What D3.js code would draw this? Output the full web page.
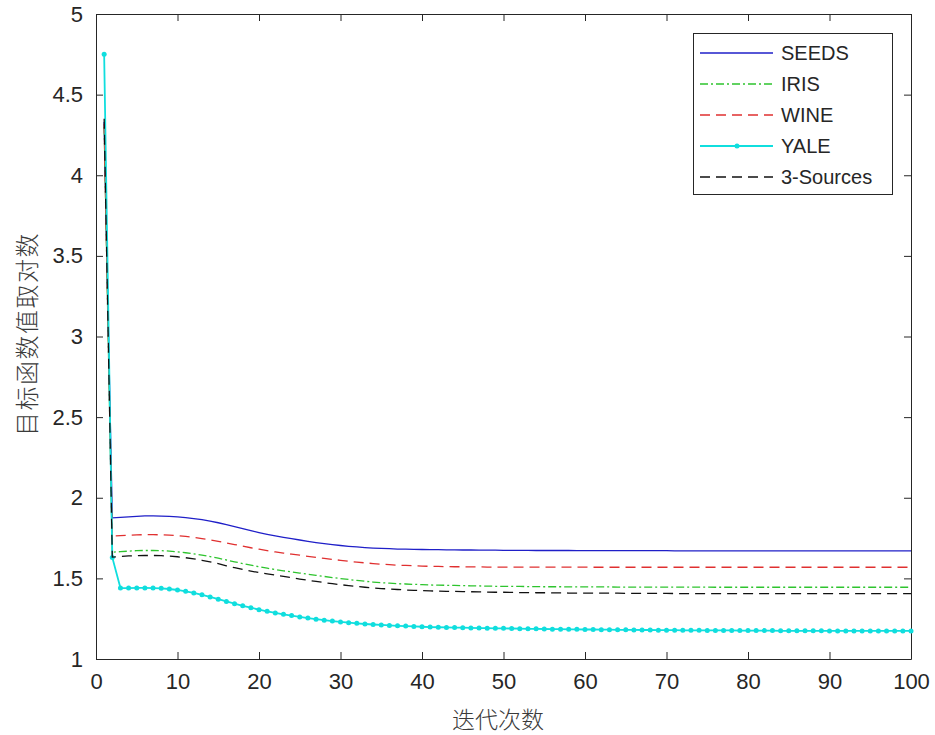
<!DOCTYPE html>
<html lang="zh">
<head>
  <meta charset="utf-8" />
  <title>迭代次数</title>
  <script src="https://d3js.org/d3.v7.min.js"></script>
  <style>
    body { margin: 0; background: #fff; }
    svg { display: block; }
    .tick-label { font-family: "Liberation Sans", Arial, sans-serif; fill: #262626; }
    .cjk { font-family: "Noto Sans CJK SC", sans-serif; fill: #3a3a3a; font-weight: 300; }
  </style>
</head>
<body>
<svg id="chart" width="935" height="735"></svg>
<script>
    // iterations 1..100
    var iters = d3.range(1, 101);

    var seeds = [4.33,1.875,1.878,1.882,1.885,1.887,1.887,1.886,1.884,1.881,
        1.877,1.871,1.864,1.855,1.845,1.833,1.821,1.808,1.796,1.784,
        1.773,1.763,1.754,1.746,1.738,1.730,1.722,1.715,1.709,1.704,
        1.699,1.695,1.691,1.688,1.686,1.684,1.682,1.681,1.680,1.679,
        1.678,1.678,1.677,1.677,1.676,1.676,1.675,1.675,1.675,1.674,
        1.674,1.674,1.674,1.673,1.673,1.673,1.673,1.673,1.672,1.672,
        1.672,1.672,1.672,1.672,1.672,1.672,1.672,1.672,1.672,1.672,
        1.671,1.671,1.671,1.671,1.671,1.671,1.671,1.671,1.671,1.671,
        1.671,1.671,1.671,1.671,1.671,1.671,1.671,1.671,1.671,1.671,
        1.671,1.671,1.671,1.671,1.671,1.671,1.671,1.671,1.671,1.671];

    var iris = [4.30,1.662,1.666,1.669,1.672,1.673,1.673,1.672,1.669,1.665,
        1.659,1.652,1.644,1.635,1.625,1.614,1.603,1.592,1.582,1.572,
        1.563,1.555,1.547,1.540,1.533,1.526,1.519,1.512,1.505,1.499,
        1.493,1.487,1.482,1.477,1.473,1.470,1.467,1.465,1.463,1.461,
        1.459,1.458,1.457,1.456,1.455,1.454,1.453,1.452,1.451,1.451,
        1.450,1.450,1.449,1.449,1.448,1.448,1.448,1.447,1.447,1.447,
        1.447,1.447,1.447,1.446,1.446,1.446,1.446,1.446,1.446,1.446,
        1.446,1.446,1.446,1.446,1.446,1.445,1.445,1.445,1.445,1.445,
        1.445,1.445,1.445,1.445,1.445,1.445,1.445,1.445,1.445,1.445,
        1.445,1.445,1.445,1.445,1.445,1.445,1.445,1.445,1.445,1.445];

    var wine = [4.32,1.762,1.765,1.768,1.770,1.771,1.771,1.770,1.768,1.765,
        1.760,1.754,1.747,1.739,1.730,1.720,1.710,1.700,1.690,1.681,
        1.672,1.664,1.657,1.650,1.644,1.637,1.630,1.624,1.618,1.612,
        1.606,1.601,1.596,1.592,1.588,1.585,1.582,1.580,1.578,1.576,
        1.575,1.574,1.573,1.572,1.572,1.571,1.571,1.570,1.570,1.570,
        1.570,1.570,1.570,1.570,1.570,1.570,1.570,1.570,1.570,1.570,
        1.569,1.569,1.569,1.569,1.569,1.569,1.569,1.569,1.569,1.569,
        1.569,1.569,1.569,1.569,1.569,1.569,1.569,1.569,1.569,1.569,
        1.569,1.569,1.569,1.569,1.569,1.569,1.569,1.569,1.569,1.569,
        1.569,1.569,1.569,1.569,1.569,1.569,1.569,1.569,1.569,1.569];

    var yale = [4.75,1.63,1.440,1.440,1.441,1.441,1.440,1.438,1.434,1.428,
        1.420,1.410,1.398,1.385,1.371,1.357,1.343,1.330,1.318,1.306,
        1.296,1.286,1.277,1.269,1.261,1.254,1.247,1.241,1.235,1.230,
        1.225,1.221,1.217,1.214,1.211,1.208,1.206,1.204,1.202,1.200,
        1.198,1.197,1.196,1.195,1.194,1.193,1.192,1.191,1.190,1.190,
        1.189,1.188,1.187,1.187,1.186,1.185,1.185,1.184,1.184,1.183,
        1.183,1.182,1.182,1.181,1.181,1.180,1.180,1.180,1.179,1.179,
        1.179,1.178,1.178,1.178,1.177,1.177,1.177,1.177,1.176,1.176,
        1.176,1.176,1.176,1.175,1.175,1.175,1.175,1.175,1.175,1.174,
        1.174,1.174,1.174,1.174,1.174,1.174,1.174,1.174,1.174,1.174];

    var sources3 = [4.35,1.632,1.636,1.639,1.641,1.642,1.642,1.641,1.638,1.634,
        1.628,1.621,1.612,1.602,1.591,1.578,1.566,1.555,1.545,1.536,
        1.528,1.520,1.512,1.504,1.496,1.488,1.481,1.474,1.467,1.461,
        1.455,1.450,1.445,1.441,1.437,1.434,1.431,1.428,1.426,1.424,
        1.422,1.421,1.420,1.419,1.418,1.417,1.416,1.415,1.414,1.414,
        1.413,1.412,1.412,1.411,1.411,1.410,1.410,1.409,1.409,1.409,
        1.408,1.408,1.408,1.408,1.407,1.407,1.407,1.407,1.407,1.407,
        1.406,1.406,1.406,1.406,1.406,1.406,1.406,1.406,1.406,1.406,
        1.405,1.405,1.405,1.405,1.405,1.405,1.405,1.405,1.405,1.405,
        1.405,1.405,1.405,1.405,1.405,1.405,1.405,1.405,1.405,1.405];

    var seriesNames = ['SEEDS', 'IRIS', 'WINE', 'YALE', '3-Sources'];
    var xTicks = [0, 10, 20, 30, 40, 50, 60, 70, 80, 90, 100];
    var yTicks = [1, 1.5, 2, 2.5, 3, 3.5, 4, 4.5, 5];

    var series = [
        { name: seriesNames[0], values: seeds,    color: '#1f1fc8', dash: null,        width: 1.3 },
        { name: seriesNames[1], values: iris,     color: '#2ec42e', dash: '8,3,2,3',   width: 1.3 },
        { name: seriesNames[2], values: wine,     color: '#e03030', dash: '10,6',      width: 1.3 },
        { name: seriesNames[3], values: yale,     color: '#10dede', dash: null,        width: 1.8, marker: true },
        { name: seriesNames[4], values: sources3, color: '#111111', dash: '10,6',      width: 1.3 }
    ];

    var mLeft = 96, mRight = 911, mTop = 14, mBottom = 659;
    var svg = d3.select('#chart');
    var x = d3.scaleLinear().domain([0, 100]).range([mLeft, mRight]);
    var y = d3.scaleLinear().domain([1, 5]).range([mBottom, mTop]);

    var axisColor = '#262626';
    var tickLen = 7;

    // axes with inward ticks, box on all four sides
    var gx = svg.append('g').attr('transform', 'translate(0,' + mBottom + ')')
        .call(d3.axisBottom(x).tickValues(xTicks).tickSizeInner(-tickLen).tickSizeOuter(0).tickPadding(16));
    var gxTop = svg.append('g').attr('transform', 'translate(0,' + mTop + ')')
        .call(d3.axisTop(x).tickValues(xTicks).tickSizeInner(-tickLen).tickSizeOuter(0).tickFormat(''));
    var gy = svg.append('g').attr('transform', 'translate(' + mLeft + ',0)')
        .call(d3.axisLeft(y).tickValues(yTicks).tickSizeInner(-tickLen).tickSizeOuter(0).tickPadding(13)
            .tickFormat(d3.format('')));
    var gyRight = svg.append('g').attr('transform', 'translate(' + mRight + ',0)')
        .call(d3.axisRight(y).tickValues(yTicks).tickSizeInner(-tickLen).tickSizeOuter(0).tickFormat(''));

    [gx, gxTop, gy, gyRight].forEach(function(g) {
        g.select('.domain').attr('stroke', axisColor);
        g.selectAll('.tick line').attr('stroke', axisColor);
    });
    gx.selectAll('.tick text').attr('class', 'tick-label').style('font-size', '22px')
        .attr('fill', axisColor).attr('dy', '0.62em');
    gy.selectAll('.tick text').attr('class', 'tick-label').style('font-size', '22px')
        .attr('fill', axisColor);

    // lines
    var line = d3.line().x(function(d, i) { return x(iters[i]); }).y(function(d) { return y(d); });
    var plot = svg.append('g');
    series.forEach(function(s) {
        plot.append('path').datum(s.values)
            .attr('d', line)
            .attr('fill', 'none')
            .attr('stroke', s.color)
            .attr('stroke-width', s.width)
            .attr('stroke-dasharray', s.dash);
        if (s.marker) {
            plot.selectAll(null).data(s.values).enter().append('circle')
                .attr('cx', function(d, i) { return x(iters[i]); })
                .attr('cy', function(d) { return y(d); })
                .attr('r', 2.5)
                .attr('fill', s.color);
        }
    });

    // axis titles
    svg.append('text').attr('class', 'cjk')
        .attr('x', 498).attr('y', 718)
        .attr('text-anchor', 'middle').attr('dominant-baseline', 'central')
        .style('font-size', '23px')
        .text('迭代次数');
    svg.append('text').attr('class', 'cjk')
        .attr('transform', 'translate(25,334) rotate(-90)')
        .attr('text-anchor', 'middle').attr('dominant-baseline', 'central')
        .style('font-size', '24px').style('letter-spacing', '1.5px')
        .text('目标函数值取对数');

    // legend
    var lg = svg.append('g');
    lg.append('rect').attr('x', 693.5).attr('y', 33.5).attr('width', 199).attr('height', 161)
        .attr('fill', '#fff').attr('stroke', axisColor).attr('stroke-width', 1);
    var rowY = d3.scaleLinear().domain([0, 4]).range([53, 177]);
    series.forEach(function(s, i) {
        var yy = rowY(i);
        lg.append('line').attr('x1', 700).attr('x2', 773).attr('y1', yy).attr('y2', yy)
            .attr('stroke', s.color).attr('stroke-width', s.width)
            .attr('stroke-dasharray', s.dash);
        if (s.marker) {
            lg.append('circle').attr('cx', 737).attr('cy', yy).attr('r', 2.5).attr('fill', s.color);
        }
        lg.append('text').attr('class', 'tick-label')
            .attr('x', 781).attr('y', yy).attr('dominant-baseline', 'central')
            .style('font-size', '20px')
            .text(s.name);
    });
</script>
</body>
</html>
